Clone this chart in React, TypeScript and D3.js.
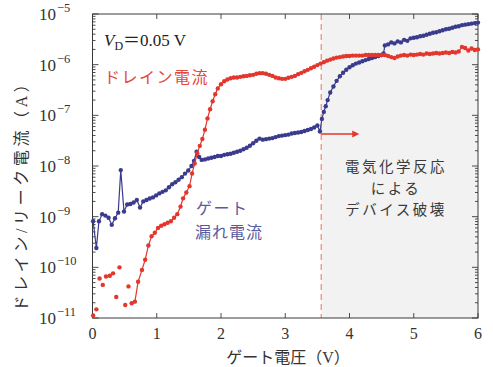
import React from "react";
import * as d3 from "d3";

// Gate voltage sweep (V) and drain current (A)
const drainV = [
  0.01, 0.06, 0.11, 0.16, 0.21, 0.27, 0.32, 0.37, 0.42, 0.51, 0.56, 0.61, 0.66, 0.71, 0.77, 0.82, 0.87, 0.92, 0.97,
  1.02, 1.07, 1.12, 1.17, 1.22, 1.27, 1.32, 1.37, 1.41, 1.46, 1.51, 1.55, 1.59, 1.63, 1.67, 1.71, 1.75, 1.79, 1.83,
  1.87, 1.91, 1.95, 2.0, 2.05, 2.1, 2.15, 2.2, 2.25, 2.3, 2.35, 2.4, 2.45, 2.5, 2.55, 2.6, 2.65, 2.7, 2.75, 2.8, 2.85,
  2.9, 2.95, 3.0, 3.05, 3.1, 3.15, 3.2, 3.25, 3.3, 3.35, 3.4, 3.45, 3.5, 3.55, 3.6, 3.65, 3.7, 3.75, 3.8, 3.85, 3.9,
  3.95, 4.0, 4.05, 4.1, 4.15, 4.2, 4.25, 4.3, 4.35, 4.4, 4.45, 4.5, 4.55, 4.6, 4.65, 4.7, 4.75, 4.8, 4.85, 4.9, 4.95,
  5.0, 5.05, 5.1, 5.15, 5.2, 5.25, 5.3, 5.35, 5.4, 5.45, 5.5, 5.55, 5.6, 5.65, 5.7, 5.75, 5.8, 5.85, 5.9, 5.95, 6.0,
];
const drainI = [
  1.12e-11, 1.48e-11, 6.0e-11, 4.5e-11, 6.6e-11, 6.8e-11, 7.6e-11, 2.6e-11, 1.0e-10, 1.8e-11, 4.2e-11, 1.95e-11,
  2.1e-11, 5.2e-11, 8.9e-11, 1.41e-10, 2.7e-10, 4.1e-10, 4.8e-10, 6.0e-10, 6.6e-10, 7.1e-10, 7.6e-10, 8.1e-10,
  9.5e-10, 1.12e-9, 1.58e-9, 2.3e-9, 3.0e-9, 4.0e-9, 7.1e-9, 1.12e-8, 1.78e-8, 2.5e-8, 3.4e-8, 5.2e-8, 8.7e-8,
  1.32e-7, 1.9e-7, 2.6e-7, 3.4e-7, 4.1e-7, 4.7e-7, 5.1e-7, 5.4e-7, 5.6e-7, 5.6e-7, 5.75e-7, 5.9e-7, 6.0e-7, 6.2e-7,
  6.3e-7, 6.6e-7, 6.8e-7, 6.8e-7, 6.6e-7, 6.3e-7, 6.0e-7, 5.6e-7, 5.4e-7, 5.25e-7, 5.25e-7, 5.5e-7, 5.75e-7, 6.0e-7,
  6.5e-7, 6.9e-7, 7.4e-7, 7.9e-7, 8.5e-7, 9.1e-7, 9.8e-7, 1.05e-6, 1.12e-6, 1.2e-6, 1.26e-6, 1.32e-6, 1.38e-6,
  1.41e-6, 1.45e-6, 1.48e-6, 1.48e-6, 1.51e-6, 1.51e-6, 1.51e-6, 1.51e-6, 1.55e-6, 1.55e-6, 1.55e-6, 1.55e-6,
  1.55e-6, 1.55e-6, 1.55e-6, 1.48e-6, 1.41e-6, 1.35e-6, 1.45e-6, 1.51e-6, 1.55e-6, 1.51e-6, 1.58e-6, 1.55e-6,
  1.58e-6, 1.62e-6, 1.58e-6, 1.66e-6, 1.62e-6, 1.66e-6, 1.7e-6, 1.66e-6, 1.7e-6, 1.74e-6, 1.7e-6, 1.78e-6, 1.74e-6,
  1.82e-6, 2.24e-6, 2.14e-6, 1.91e-6, 2.09e-6, 1.95e-6, 2.0e-6,
];
// Below this gate voltage the drain points are plotted without a connecting line
const drainLineFrom = 0.6;

// Gate voltage sweep (V) and gate leakage current (A)
const gateV = [
  0.01, 0.06, 0.1, 0.15, 0.2, 0.25, 0.3, 0.35, 0.4, 0.44, 0.49, 0.54, 0.59, 0.64, 0.69, 0.74, 0.79, 0.84, 0.89, 0.94,
  0.99, 1.04, 1.09, 1.14, 1.19, 1.24, 1.29, 1.34, 1.39, 1.44, 1.49, 1.54, 1.58, 1.62, 1.66, 1.7, 1.75, 1.8, 1.85, 1.9,
  1.95, 2.0, 2.05, 2.1, 2.15, 2.2, 2.25, 2.3, 2.35, 2.4, 2.45, 2.5, 2.55, 2.6, 2.65, 2.7, 2.75, 2.8, 2.85, 2.9, 2.95,
  3.0, 3.05, 3.1, 3.15, 3.2, 3.25, 3.3, 3.35, 3.4, 3.45, 3.5, 3.54, 3.57, 3.6, 3.63, 3.66, 3.7, 3.75, 3.8, 3.85, 3.9,
  3.95, 4.0, 4.05, 4.1, 4.15, 4.2, 4.25, 4.3, 4.35, 4.4, 4.45, 4.5, 4.53, 4.55, 4.6, 4.65, 4.7, 4.75, 4.8, 4.85, 4.9,
  4.95, 5.0, 5.05, 5.1, 5.15, 5.2, 5.25, 5.3, 5.35, 5.4, 5.45, 5.5, 5.55, 5.6, 5.65, 5.7, 5.75, 5.8, 5.85, 5.9, 5.95,
  6.0,
];
const gateI = [
  8.1e-10, 2.4e-10, 8.1e-10, 1.12e-9, 1.05e-9, 9.5e-10, 6.9e-10, 9.3e-10, 1.2e-9, 8.3e-9, 1.26e-9, 1.74e-9, 1.78e-9,
  1.91e-9, 2.14e-9, 1.51e-9, 2.0e-9, 2.14e-9, 2.29e-9, 2.4e-9, 2.63e-9, 2.88e-9, 3.09e-9, 3.31e-9, 3.8e-9, 4.37e-9,
  4.79e-9, 5.37e-9, 6.03e-9, 7.08e-9, 8.13e-9, 1.0e-8, 1.26e-8, 1.91e-8, 1.51e-8, 1.32e-8, 1.35e-8, 1.41e-8, 1.45e-8,
  1.51e-8, 1.58e-8, 1.58e-8, 1.66e-8, 1.7e-8, 1.74e-8, 1.82e-8, 1.91e-8, 2.0e-8, 2.14e-8, 2.29e-8, 2.51e-8, 2.82e-8,
  3.16e-8, 3.47e-8, 3.31e-8, 3.39e-8, 3.47e-8, 3.55e-8, 3.72e-8, 3.89e-8, 3.98e-8, 4.07e-8, 4.17e-8, 4.37e-8, 4.47e-8,
  4.57e-8, 4.68e-8, 4.9e-8, 5.13e-8, 5.37e-8, 5.75e-8, 6.31e-8, 4.79e-8, 8.51e-8, 1.17e-7, 1.51e-7, 2.0e-7, 2.82e-7,
  3.72e-7, 4.79e-7, 5.89e-7, 6.92e-7, 7.94e-7, 8.91e-7, 9.77e-7, 1.05e-6, 1.1e-6, 1.17e-6, 1.23e-6, 1.29e-6, 1.35e-6,
  1.41e-6, 1.48e-6, 1.55e-6, 1.66e-6, 2.4e-6, 2.51e-6, 2.75e-6, 2.63e-6, 2.88e-6, 2.75e-6, 3.09e-6, 2.95e-6, 3.31e-6,
  3.39e-6, 3.47e-6, 3.63e-6, 3.72e-6, 3.89e-6, 4.07e-6, 4.27e-6, 4.37e-6, 4.57e-6, 4.79e-6, 5.01e-6, 5.13e-6, 5.37e-6,
  5.62e-6, 5.75e-6, 6.03e-6, 6.17e-6, 6.31e-6, 6.46e-6, 6.61e-6, 6.76e-6,
];

// Axis settings
const xDomain = [0, 6];
const xTickValues = [0, 1, 2, 3, 4, 5, 6];
const yDomain = [1e-11, 1e-5];
const yExponents = [-11, -10, -9, -8, -7, -6, -5];

// Onset of electrochemical breakdown (V)
const breakdownV = 3.56;

// Breakdown-region caption lines
const breakdownCaption = ["電気化学反応", "による", "デバイス破壊"];

const W = 493;
const H = 367;
const M = { left: 92.5, right: 478, top: 14, bottom: 318 };

const RED = "#e3362c";
const BLUE = "#3b3b8e";
const FRAME = "#3a3a3a";
const SERIF = "'Liberation Serif', 'Noto Sans CJK JP', serif";
const JP = "'Noto Sans CJK JP', sans-serif";

export default function App() {
  const x = d3.scaleLinear().domain(xDomain).range([M.left, M.right]);
  const y = d3.scaleLog().domain(yDomain).range([M.bottom, M.top]);

  const drain = drainV.map((v, i) => ({ v, c: drainI[i] }));
  const gate = gateV.map((v, i) => ({ v, c: gateI[i] }));

  const line = d3
    .line<{ v: number; c: number }>()
    .x((d) => x(d.v))
    .y((d) => y(d.c));

  const yTicks = y.ticks();
  const isMajor = (t: number) => Math.abs(Math.log10(t) - Math.round(Math.log10(t))) < 1e-6;

  const bx = x(breakdownV);

  return (
    <svg width={W} height={H} style={{ display: "block", position: "absolute", left: 0, top: 0 }}>
      <rect x={0} y={0} width={W} height={H} fill="#ffffff" />
      {/* breakdown region */}
      <rect x={bx} y={M.top} width={M.right - bx} height={M.bottom - M.top} fill="#f2f2f2" />
      <line
        x1={bx}
        x2={bx}
        y1={M.top}
        y2={M.bottom}
        stroke="#f08f78"
        strokeWidth={1.3}
        strokeDasharray="6,4"
      />

      {/* frame */}
      <rect
        x={M.left}
        y={M.top}
        width={M.right - M.left}
        height={M.bottom - M.top}
        fill="none"
        stroke={FRAME}
        strokeWidth={1}
      />

      {/* y ticks, both sides, inward */}
      {yTicks.map((t, i) => {
        const len = isMajor(t) ? 6 : 3;
        const yy = y(t);
        return (
          <g key={"yt" + i} stroke={FRAME} strokeWidth={0.9}>
            <line x1={M.left} x2={M.left + len} y1={yy} y2={yy} />
            <line x1={M.right} x2={M.right - len} y1={yy} y2={yy} />
          </g>
        );
      })}
      {/* x ticks, top and bottom, inward */}
      {xTickValues.map((t) => (
        <g key={"xt" + t} stroke={FRAME} strokeWidth={0.9}>
          <line x1={x(t)} x2={x(t)} y1={M.bottom} y2={M.bottom - 5} />
          <line x1={x(t)} x2={x(t)} y1={M.top} y2={M.top + 5} />
        </g>
      ))}

      {/* y tick labels */}
      {yExponents.map((e) => (
        <text key={"yl" + e} x={39} y={y(Math.pow(10, e)) + 6} fontFamily={SERIF} fontSize={17} fill="#333">
          10
          <tspan dy={-8} fontSize={12.5} dx={1}>
            {"\u2212" + Math.abs(e)}
          </tspan>
        </text>
      ))}
      {/* x tick labels */}
      {xTickValues.map((t) => (
        <text
          key={"xl" + t}
          x={x(t)}
          y={339}
          textAnchor="middle"
          fontFamily={SERIF}
          fontSize={16}
          fill="#333"
        >
          {t}
        </text>
      ))}

      {/* axis titles */}
      <text x={288} y={363} textAnchor="middle" fontFamily={SERIF} fontSize={16} fill="#333">
        ゲート電圧（V）
      </text>
      <text
        transform={`translate(27,${(M.top + M.bottom) / 2 + 26}) rotate(-90)`}
        textAnchor="middle"
        fontFamily={SERIF}
        fontSize={16}
        letterSpacing={3.6}
        fill="#333"
      >
        ドレイン/リーク電流（A）
      </text>

      {/* gate leakage current */}
      <path d={line(gate) || ""} fill="none" stroke={BLUE} strokeWidth={1.2} />
      {gate.map((d, i) => (
        <circle key={"g" + i} cx={x(d.v)} cy={y(d.c)} r={2.2} fill={BLUE} />
      ))}

      {/* drain current */}
      <path d={line(drain.filter((d) => d.v >= drainLineFrom)) || ""} fill="none" stroke={RED} strokeWidth={1.2} />
      {drain.map((d, i) => (
        <circle key={"d" + i} cx={x(d.v)} cy={y(d.c)} r={2.2} fill={RED} />
      ))}

      {/* arrow into breakdown region */}
      <line x1={bx} x2={bx + 34} y1={134} y2={134} stroke={RED} strokeWidth={1.4} />
      <path d={`M${bx + 38},134 L${bx + 31},130.5 L${bx + 31},137.5 Z`} fill={RED} />

      {/* annotations */}
      <text x={104} y={46} fontFamily={SERIF} fontSize={17} fill="#222">
        <tspan fontStyle="italic">V</tspan>
        <tspan fontSize={12} dy={4}>
          D
        </tspan>
        <tspan dy={-4}>{"\uFF1D0.05 V"}</tspan>
      </text>
      <text x={104} y={83} fontFamily={JP} fontSize={16} letterSpacing={1.5} fill="#e2483c">
        ドレイン電流
      </text>
      <text x={196} y={214} fontFamily={JP} fontSize={16} letterSpacing={1.5} fill="#5a5a9e">
        ゲート
      </text>
      <text x={195} y={238} fontFamily={JP} fontSize={16} letterSpacing={1} fill="#5a5a9e">
        漏れ電流
      </text>
      <g fontFamily={JP} fontSize={14.5} letterSpacing={2.5} fill="#3a3a3a" textAnchor="middle">
        {breakdownCaption.map((s, i) => (
          <text key={s} x={396} y={172 + i * 21.5}>
            {s}
          </text>
        ))}
      </g>
    </svg>
  );
}
